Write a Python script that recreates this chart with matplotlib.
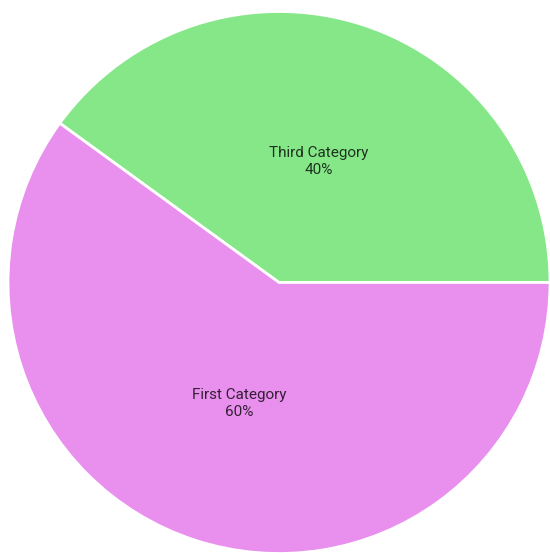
import matplotlib.pyplot as plt

# data
categories = ["Third Category", "First Category"]
values = [40, 60]
colors = ["#86e789", "#e98fee"]

total = sum(values)
labels = [f"{c}\n{round(v / total * 100)}%" for c, v in zip(categories, values)]

fig = plt.figure(figsize=(5.5, 5.53), dpi=100)
ax = fig.add_axes([0, 0, 1, 1])

#pie is as big as the canvas, it gets cut a bit on the right and bottom
ax.pie(values, labels=labels, colors=colors, startangle=0, counterclock=True,
       center=(279, 270.5), radius=271, labeldistance=0.47, frame=True,
       wedgeprops=dict(edgecolor="white", linewidth=2),
       textprops=dict(ha="center", va="center", multialignment="center",
                      family="Roboto", fontsize=11, color="black", alpha=0.78,
                      linespacing=1.3))
ax.set_xlim(0, 550)
ax.set_ylim(0, 553)
ax.set_aspect("equal")
ax.axis("off")

fig.savefig("out.png", dpi=100)
